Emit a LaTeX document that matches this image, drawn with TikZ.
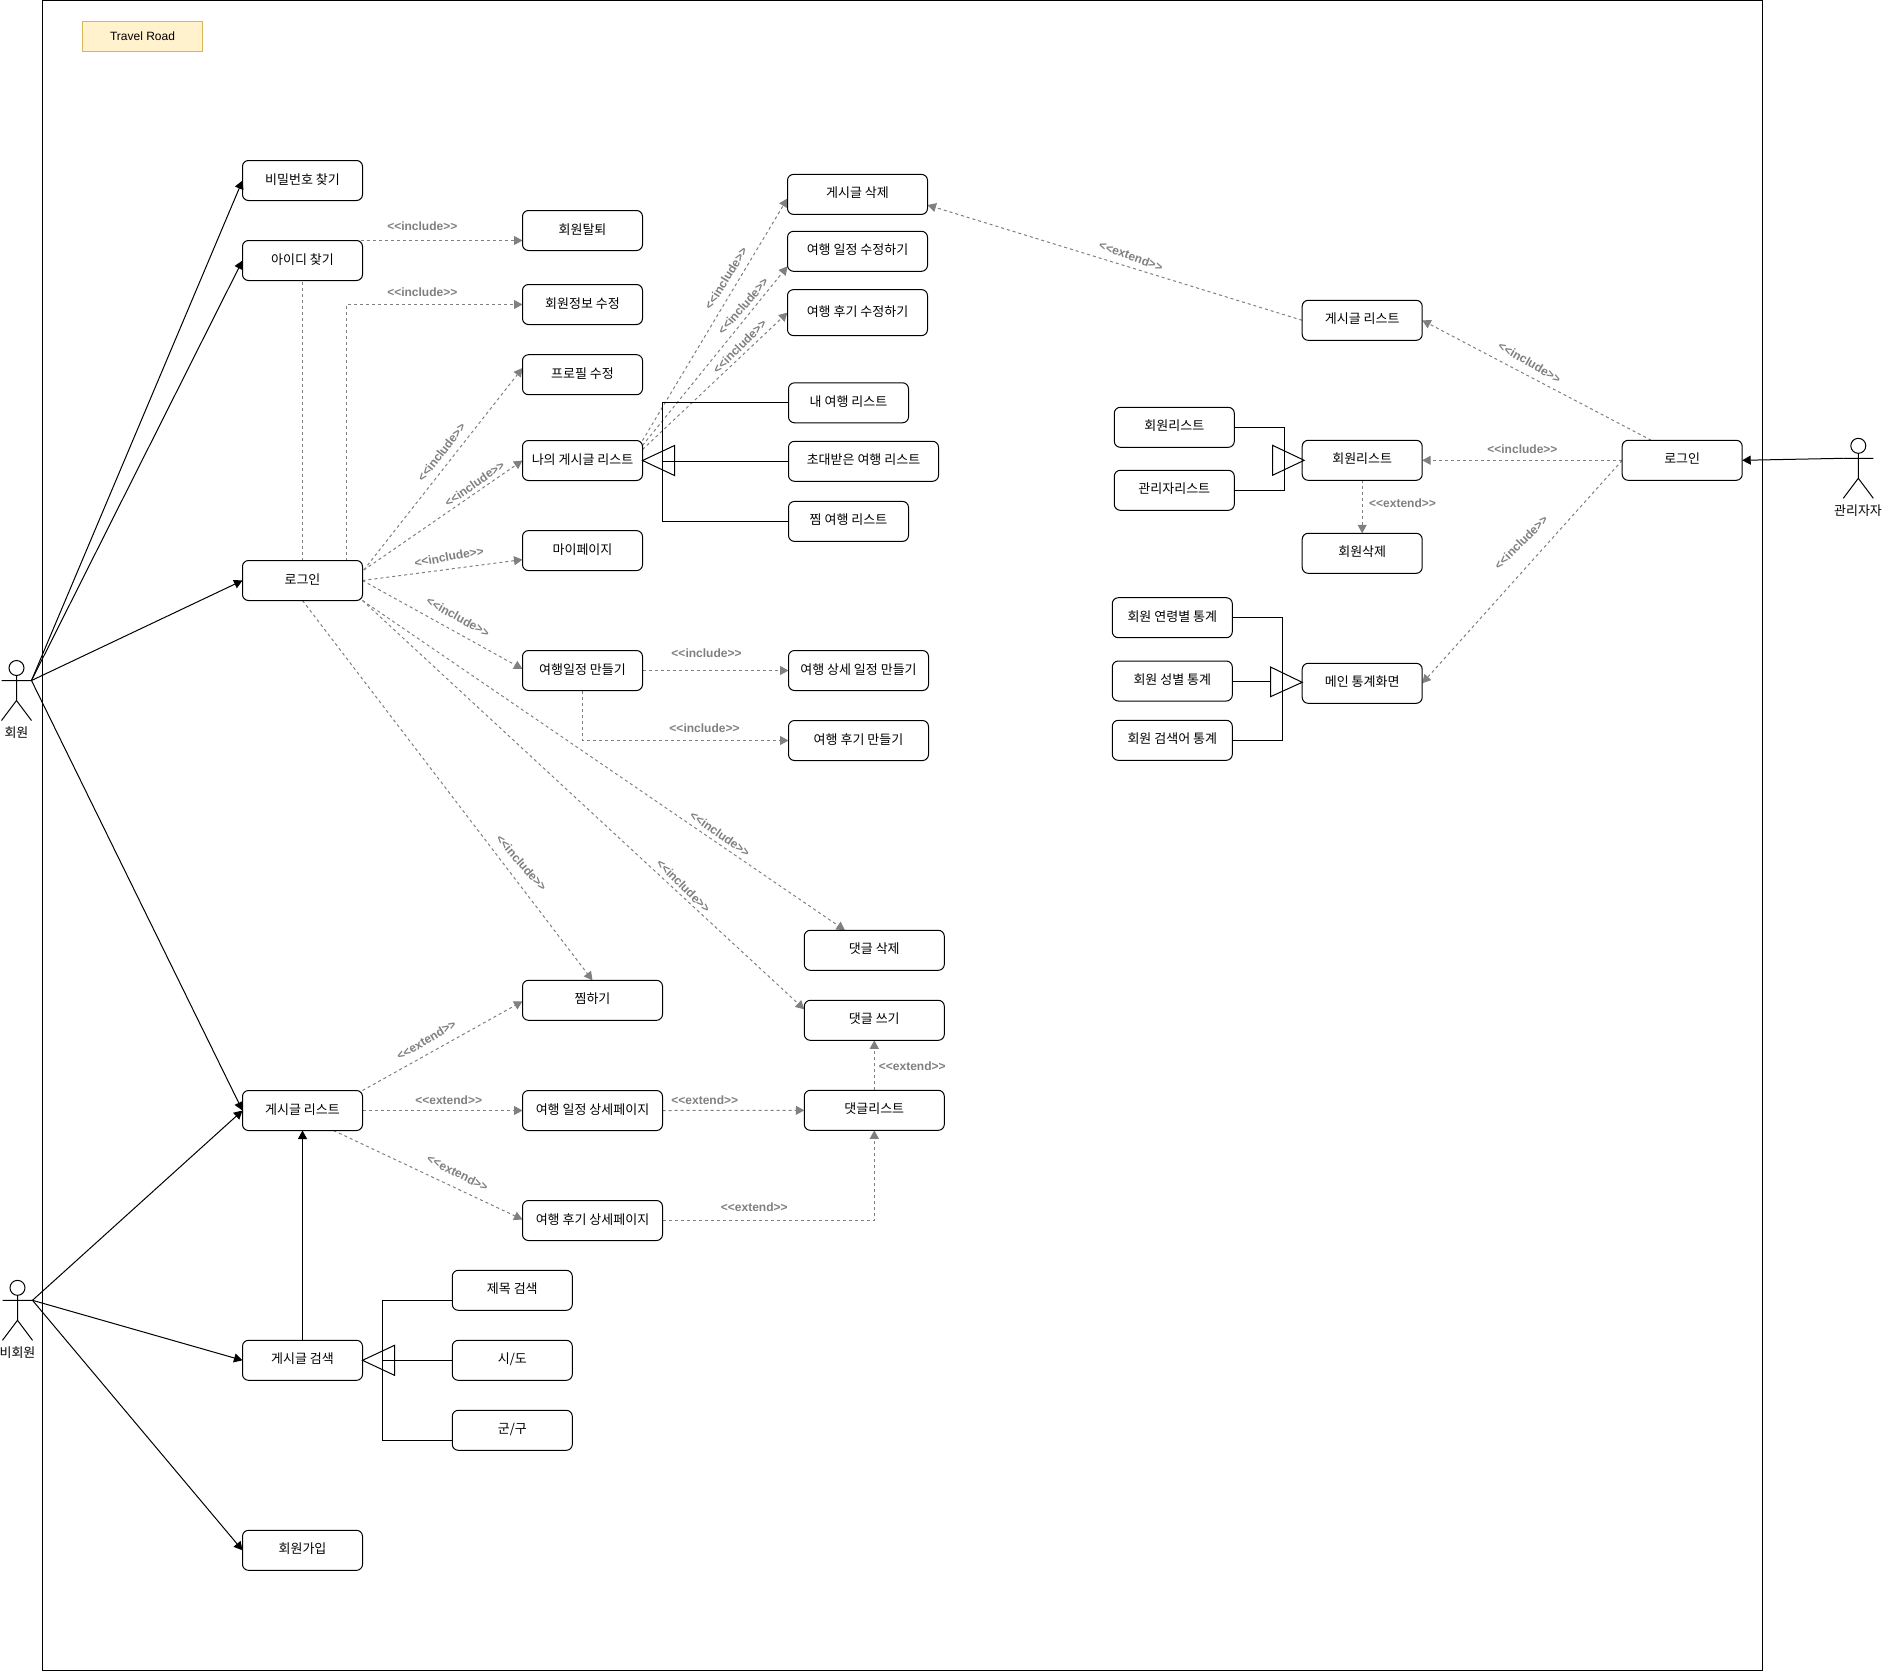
\documentclass[tikz,border=0pt]{standalone}
\usepackage{fontspec}
\setmainfont{Liberation Sans}
\newfontfamily\krfont{Noto Sans CJK KR}
\newfontfamily\labfont{Liberation Sans}
\usetikzlibrary{arrows.meta}
\pgfdeclarelayer{under}
\pgfsetlayers{under,main}
\definecolor{grayline}{HTML}{808080}
\tikzset{
  x=1pt,y=-1pt,
  box/.style={draw=black,fill=white,rounded corners=6pt,minimum width=120pt,minimum height=40pt,inner sep=0pt,outer sep=0pt,line width=1pt,font=\krfont\fontsize{13}{14}\selectfont,text height=9pt,text depth=2pt},
  titlebox/.style={draw={rgb,255:red,214;green,182;blue,86},fill={rgb,255:red,255;green,242;blue,204},minimum width=120pt,minimum height=30pt,inner sep=0pt,outer sep=0pt,line width=1pt,font=\fontsize{12}{14}\selectfont,text height=9pt,text depth=2pt},
  assoc/.style={draw=black,line width=1pt,-{Triangle[length=8.5pt,width=9pt]}},
  dep/.style={draw=grayline,line width=1pt,dash pattern=on 3pt off 3pt,-{Triangle[length=8.5pt,width=9pt,fill=grayline]}},
  plain/.style={draw=black,line width=1pt},
  gen/.style={draw=black,line width=1pt,line join=miter},
  lab/.style={text=grayline,font=\labfont\bfseries\fontsize{12}{14}\selectfont,inner sep=0pt},
  actorname/.style={font=\krfont\fontsize{13}{14}\selectfont,inner sep=0pt},
  head/.style={draw=black,fill=white,line width=1pt,circle,minimum size=15pt,inner sep=0pt,outer sep=0pt},
}
\newcommand{\actorfig}[3]{% name, cx, top
  \node[head] (#1H) at (#2,#3+7.5) {};
  \coordinate (#1L) at (#2-15,#3+20);
  \coordinate (#1R) at (#2+15,#3+20);
  \coordinate (#1B) at (#2,#3+40);
  \coordinate (#1F) at (#2-15,#3+60);
  \coordinate (#1G) at (#2+15,#3+60);
  \draw[plain] (#1H.south) -- (#1B) (#1L) -- (#1R) (#1F) -- (#1B) -- (#1G);
}
\begin{document}
\begin{tikzpicture}
\useasboundingbox (0,0) rectangle (1883,1671);

\node[box] (pw) at (302.5,180.5) {비밀번호 찾기};
\node[box] (id) at (302.5,260.5) {아이디 찾기};
\node[box] (login) at (302.5,580.5) {로그인};
\node[box] (quit) at (582.5,230.5) {회원탈퇴};
\node[box] (info) at (582.5,304.5) {회원정보 수정};
\node[box] (prof) at (582.5,374.7) {프로필 수정};
\node[box] (mypost) at (582.5,460.5) {나의 게시글 리스트};
\node[box] (mypage) at (582.5,550.6) {마이페이지};
\node[box] (mkplan) at (582.5,670.5) {여행일정 만들기};
\node[box,minimum width=140pt] (like) at (592.5,1000.3) {찜하기};
\node[box] (list) at (302.5,1110.5) {게시글 리스트};
\node[box,minimum width=140pt] (plandet) at (592.5,1110.5) {여행 일정 상세페이지};
\node[box,minimum width=140pt] (revdet) at (592.5,1220.5) {여행 후기 상세페이지};
\node[box,minimum width=140pt] (cdel) at (874.3,950.3) {댓글 삭제};
\node[box,minimum width=140pt] (cwrite) at (874.3,1020.3) {댓글 쓰기};
\node[box,minimum width=140pt] (clist) at (874.3,1110.3) {댓글리스트};
\node[box] (stitle) at (512.3,1290.3) {제목 검색};
\node[box] (ssido) at (512.3,1360.3) {시/도};
\node[box] (sgun) at (512.3,1430.3) {군/구};
\node[box] (search) at (302.5,1360.3) {게시글 검색};
\node[box] (join) at (302.5,1550.3) {회원가입};
\node[box,minimum width=140pt] (pdel) at (857.5,194.4) {게시글 삭제};
\node[box,minimum width=140pt] (pedit) at (857.5,251.3) {여행 일정 수정하기};
\node[box,minimum width=140pt,minimum height=46pt] (redit) at (857.5,312.6) {여행 후기 수정하기};
\node[box] (mytrip) at (848.5,402.8) {내 여행 리스트};
\node[box,minimum width=150pt] (invited) at (863.5,461.3) {초대받은 여행 리스트};
\node[box] (liketrip) at (848.5,521.4) {찜 여행 리스트};
\node[box,minimum width=140pt] (mkdet) at (858.5,670.5) {여행 상세 일정 만들기};
\node[box,minimum width=140pt] (mkrev) at (858.5,740.5) {여행 후기 만들기};
\node[box] (alist) at (1362.2,320.3) {게시글 리스트};
\node[box] (amem) at (1362.2,460.3) {회원리스트};
\node[box] (amdel) at (1362.2,553.3) {회원삭제};
\node[box] (amain) at (1362.2,683.3) {메인 통계화면};
\node[box] (alogin) at (1682.2,460.3) {로그인};
\node[box] (amem2) at (1174.3,427.3) {회원리스트};
\node[box] (aadm) at (1174.3,490.3) {관리자리스트};
\node[box] (sage) at (1172.3,617.7) {회원 연령별 통계};
\node[box] (ssex) at (1172.3,681) {회원 성별 통계};
\node[box] (sword) at (1172.3,740.3) {회원 검색어 통계};
\node[titlebox] (title) at (142.5,36.5) {Travel Road};

\actorfig{m}{16.5}{660.5}
\actorfig{g}{17.5}{1280.3}
\actorfig{a}{1858.3}{438.3}
\node[actorname] (mname) at (16.5,733) {회원};
\node[actorname] (gname) at (17.5,1352.5) {비회원};
\node[actorname] (aname) at (1858,510.5) {관리자자};

% actor associations
\draw[assoc] (mR) -- (pw.west);
\draw[assoc] (mR) -- (id.west);
\draw[assoc] (mR) -- (login.west);
\draw[assoc] (mR) -- (list.west);
\draw[assoc] (gR) -- (list.west);
\draw[assoc] (gR) -- (search.west);
\draw[assoc] (gR) -- (join.west);
\draw[assoc] (search.north) -- (list.south);
\draw[assoc] (aL) -- (alogin.east);

% generalisations
\coordinate (mpx) at ([shift={(20,0)}]mypost.east);
\draw[plain] (mytrip.west) -| (mpx) |- (liketrip.west);
\draw[plain] (invited.west) -- (mpx|-invited.west);
\draw[gen] (mypost.east) -- ([shift={(32,-15)}]mypost.east) -- ([shift={(32,15)}]mypost.east) -- cycle;

\coordinate (memx) at ([shift={(-18,0)}]amem.west);
\draw[plain] (amem2.east) -| (memx) |- (aadm.east);
\draw[gen] ([shift={(2,0)}]amem.west) -- ([shift={(-29.7,-15)}]amem.west) -- ([shift={(-29.7,15)}]amem.west) -- cycle;

\coordinate (statx) at ([shift={(-20,0)}]amain.west);
\draw[plain] (sage.east) -| (statx) |- (sword.east);
\draw[plain] (ssex.east) -- ([shift={(-31.7,-2.3)}]amain.west);
\draw[gen] ([shift={(0,-1)}]amain.west) -- ([shift={(-31.7,-16.3)}]amain.west) -- ([shift={(-31.7,13.4)}]amain.west) -- cycle;

\coordinate (schx) at ([shift={(20.3,0)}]search.east);
\draw[plain] ([shift={(0,10)}]stitle.west) -| (schx) |- ([shift={(0,10)}]sgun.west);
\draw[plain] (ssido.west) -- (schx|-ssido.west);
\draw[gen] (search.east) -- ([shift={(32,-15)}]search.east) -- ([shift={(32,15)}]search.east) -- cycle;

% dependencies run under the boxes
\begin{pgfonlayer}{under}
\fill[white] (0,0) rectangle (1883,1671);
\draw[plain] (42.5,0.5) rectangle (1762.5,1670.5);
\draw[dep] (login.north) |- ([shift={(0,10)}]quit.west);
\draw[dep] ([shift={(43.5,0)}]login.north) |- (info.west);
\draw[dep] ([shift={(1.3,-10.5)}]login.east) -- ([shift={(0,-6.7)}]prof.west);
\draw[dep] ([shift={(1.3,-10.5)}]login.east) -- (mypost.west);
\draw[dep] (login.east) -- ([shift={(0,9)}]mypage.west);
\draw[dep] (login.east) -- ([shift={(0,-1.5)}]mkplan.west);
\draw[dep] ([shift={(0,20)}]login.east) -- ([shift={(-29.3,0)}]cdel.north);
\draw[dep] ([shift={(0,20)}]login.east) -- ([shift={(0,-11)}]cwrite.west);
\draw[dep] (login.south) -- (like.north);
\draw[dep] (mypost.north east) -- ([shift={(0,4)}]pdel.west);
\draw[dep] ([shift={(0,-15)}]mypost.east) -- ([shift={(0,15)}]pedit.west);
\draw[dep] ([shift={(0,-11)}]mypost.east) -- (redit.west);
\draw[dep] (mkplan.east) -- (mkdet.west);
\draw[dep] (mkplan.south) |- (mkrev.west);
\draw[dep] (list.north east) -- ([shift={(0,1)}]like.west);
\draw[dep] (list.east) -- (plandet.west);
\draw[dep] ([shift={(31,0)}]list.south) -- ([shift={(0,-1)}]revdet.west);
\draw[dep] (plandet.east) -- (clist.west);
\draw[dep] (revdet.east) -| (clist.south);
\draw[dep] (clist.north) -- (cwrite.south);
\draw[dep] (alist.west) -- ([shift={(0,10.6)}]pdel.east);
\draw[dep] ([shift={(-31,0)}]alogin.north) -- (alist.east);
\draw[dep] (alogin.west) -- (amem.east);
\draw[dep] (amem.south) -- (amdel.north);
\draw[dep] (alogin.west) -- (amain.east);
\end{pgfonlayer}

% stereotype labels
\node[lab] (l01) at (422.3,226.6) {<<include>>};
\node[lab] (l02) at (422.3,292.6) {<<include>>};
\node[lab,rotate=52] (l03) at (441.5,452.2) {<<include>>};
\node[lab,rotate=35] (l04) at (474.5,483.6) {<<include>>};
\node[lab,rotate=10] (l05) at (449,556.7) {<<include>>};
\node[lab,rotate=-29] (l06) at (458,617) {<<include>>};
\node[lab,rotate=-49] (l07) at (521.5,863) {<<include>>};
\node[lab,rotate=-45] (l08) at (683.5,886) {<<include>>};
\node[lab,rotate=-35] (l09) at (720,834) {<<include>>};
\node[lab,rotate=58] (l10) at (726,278.4) {<<include>>};
\node[lab,rotate=49] (l11) at (743,306) {<<include>>};
\node[lab,rotate=45] (l12) at (739.7,346.4) {<<include>>};
\node[lab,rotate=-20] (l13) at (1131,256) {<<extend>>};
\node[lab] (l14) at (706.5,653) {<<include>>};
\node[lab] (l15) at (704.5,728.4) {<<include>>};
\node[lab,rotate=-30] (l16) at (1529.6,362.3) {<<include>>};
\node[lab] (l17) at (1522.4,449.7) {<<include>>};
\node[lab] (l18) at (1402.5,503.7) {<<extend>>};
\node[lab,rotate=45] (l19) at (1521,542.3) {<<include>>};
\node[lab,rotate=31] (l20) at (426.3,1040) {<<extend>>};
\node[lab] (l21) at (448.7,1100.3) {<<extend>>};
\node[lab,rotate=-27] (l22) at (457.6,1173) {<<extend>>};
\node[lab] (l23) at (704.8,1100.2) {<<extend>>};
\node[lab] (l24) at (912.3,1066.2) {<<extend>>};
\node[lab] (l25) at (754.3,1207.3) {<<extend>>};
\end{tikzpicture}
\end{document}
